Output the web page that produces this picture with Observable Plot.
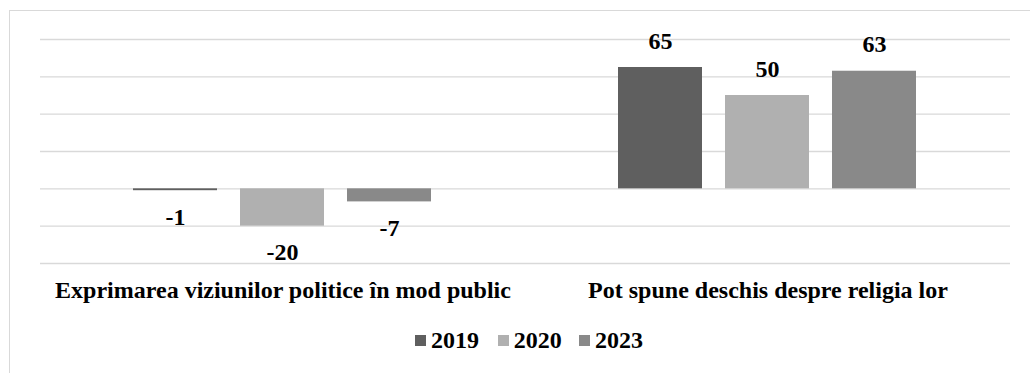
<!DOCTYPE html>
<html>
<head>
<meta charset="utf-8">
<script src="https://cdn.jsdelivr.net/npm/d3@7"></script>
<script src="https://cdn.jsdelivr.net/npm/@observablehq/plot@0.6"></script>
<style>
  html, body { margin: 0; padding: 0; background: #fff; overflow: hidden; }
  #wrap { position: relative; width: 1030px; height: 373px; font-family: "Liberation Serif", "Times New Roman", serif; }
  #frame { position: absolute; left: 9px; top: 10px; width: 1030px; height: 400px; border-top: 1px solid #d9d9d9; border-left: 1px solid #d9d9d9; }
  #chart { position: absolute; left: 0; top: 0; }
  #legend { position: absolute; left: 0; top: 320px; width: 1030px; height: 53px; }
  .item { position: absolute; top: 7px; display: flex; align-items: center; font-weight: bold; font-size: 24px; color: #000; white-space: nowrap; }
  .sw { display: inline-block; width: 11px; height: 11px; margin-right: 5px; }
</style>
</head>
<body>
<div id="wrap">
  <div id="frame"></div>
  <div id="chart"></div>
  <div id="legend"></div>
</div>
<script>
const categories = ["Exprimarea viziunilor politice în mod public", "Pot spune deschis despre religia lor"];
const years = ["2019", "2020", "2023"];
const values2019 = [-1, 65];
const values2020 = [-20, 50];
const values2023 = [-7, 63];
const yTicks = [-40, -20, 0, 20, 40, 60, 80];
const colors = ["#5f5f5f", "#b0b0b0", "#898989"];

const series = [values2019, values2020, values2023];
const data = [];
categories.forEach((c, i) => {
  years.forEach((yr, j) => data.push({category: c, year: yr, value: series[j][i]}));
});

const font = "'Liberation Serif', 'Times New Roman', serif";

const chart = Plot.plot({
  width: 1030,
  height: 320,
  marginLeft: 39,
  marginRight: 20,
  marginTop: 39,
  marginBottom: 57,
  style: {fontFamily: font, background: "transparent"},
  fx: {domain: categories, padding: 0},
  x: {domain: years, paddingInner: 0.213, paddingOuter: 0.854, axis: null},
  y: {domain: [-40, 80], axis: null},
  color: {domain: years, range: colors},
  marks: [
    Plot.gridY(yTicks, {stroke: "#d9d9d9", strokeOpacity: 1, strokeWidth: 1.3}),
    Plot.barY(data, {fx: "category", x: "year", y: "value", fill: "year"}),
    Plot.text(data.filter(d => d.value >= 0), {fx: "category", x: "year", y: "value", text: d => String(d.value), lineAnchor: "bottom", dy: -19, fontSize: 24, fontWeight: "bold", fill: "#000"}),
    Plot.text(data.filter(d => d.value < 0), {fx: "category", x: "year", y: "value", text: d => String(d.value), lineAnchor: "top", dy: 17, fontSize: 24, fontWeight: "bold", fill: "#000"}),
    Plot.axisFx({anchor: "bottom", tickSize: 0, tickPadding: 17, label: null, fontSize: 24, fontWeight: "bold", color: "#000"})
  ]
});
document.getElementById("chart").appendChild(chart);

const legend = document.getElementById("legend");
const lefts = [415, 497.7, 579];
years.forEach((yr, j) => {
  const it = document.createElement("div");
  it.className = "item";
  it.style.left = lefts[j] + "px";
  const sw = document.createElement("span");
  sw.className = "sw";
  sw.style.background = colors[j];
  it.appendChild(sw);
  it.appendChild(document.createTextNode(yr));
  legend.appendChild(it);
});
</script>
</body>
</html>
